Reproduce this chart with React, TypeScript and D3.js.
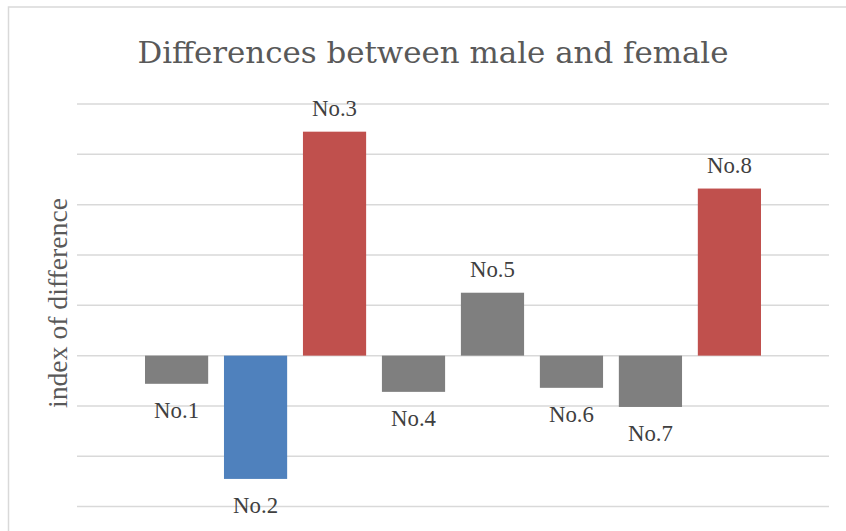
import React from "react";
import * as d3 from "d3";

const categories = ["No.1", "No.2", "No.3", "No.4", "No.5", "No.6", "No.7", "No.8"];
const values = [-0.56, -2.45, 4.45, -0.72, 1.25, -0.64, -1.02, 3.32];
const barKinds = ["neutral", "low", "high", "neutral", "neutral", "neutral", "neutral", "high"];
const gridTicks = [-3, -2, -1, 0, 1, 2, 3, 4, 5];
const titleText = "Differences between male and female";
const yAxisTitle = "index of difference";

const colorMap: Record<string, string> = {
  neutral: "#7f7f7f",
  low: "#4f81bd",
  high: "#c0504d",
};

export default function App() {
  const W = 846;
  const H = 531;
  const plotLeft = 77;
  const plotRight = 829;
  const x = d3.scaleBand<string>().domain(categories).range([145, 761]).paddingInner(0.2).paddingOuter(0);
  const y = d3.scaleLinear().domain([-3, 5]).range([506.6, 104]);
  const serif = "'Liberation Serif', 'Times New Roman', serif";
  const titleFont = "'DejaVu Serif', serif";

  return (
    <svg width={W} height={H} style={{ position: "absolute", left: 0, top: 0, background: "#fff" }}>
      <rect x={8.5} y={7} width={900} height={600} fill="#fff" stroke="#d9d9d9" strokeWidth={1.5} />
      <text
        x={433}
        y={62.5}
        textAnchor="middle"
        fontFamily={titleFont}
        fontSize={30}
        fill="#595959"
        textLength={591}
        lengthAdjust="spacingAndGlyphs"
      >
        {titleText}
      </text>
      {gridTicks.map((t) => (
        <line key={t} x1={plotLeft} x2={plotRight} y1={y(t)} y2={y(t)} stroke="#d9d9d9" strokeWidth={1.5} />
      ))}
      {categories.map((c, i) => {
        const v = values[i];
        const y0 = y(0);
        const y1 = y(v);
        return (
          <rect
            key={c}
            x={x(c)}
            y={Math.min(y0, y1)}
            width={x.bandwidth()}
            height={Math.abs(y1 - y0)}
            fill={colorMap[barKinds[i]]}
          />
        );
      })}
      {categories.map((c, i) => {
        const v = values[i];
        const cx = (x(c) as number) + x.bandwidth() / 2;
        const ly = v >= 0 ? y(v) - 16 : y(v) + 34;
        return (
          <text
            key={"l" + c}
            x={cx}
            y={ly}
            textAnchor="middle"
            fontFamily={serif}
            fontSize={24}
            fill="#404040"
            textLength={45}
            lengthAdjust="spacingAndGlyphs"
          >
            {c}
          </text>
        );
      })}
      <text
        transform={`translate(67,303) rotate(-90)`}
        textAnchor="middle"
        fontFamily={serif}
        fontSize={27}
        fill="#595959"
        textLength={210}
        lengthAdjust="spacingAndGlyphs"
      >
        {yAxisTitle}
      </text>
    </svg>
  );
}
